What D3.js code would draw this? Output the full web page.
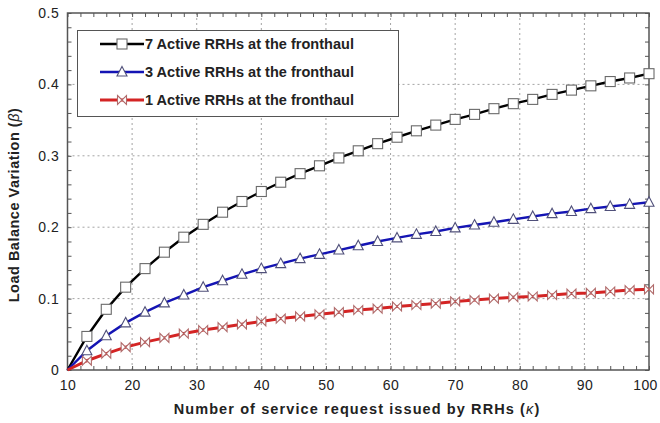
<!DOCTYPE html>
<html>
<head>
<meta charset="utf-8">
<script src="https://cdn.jsdelivr.net/npm/d3@7"></script>
<style>
  html, body { margin: 0; padding: 0; background: #fff; }
  svg { display: block; font-family: "Liberation Sans", Arial, sans-serif; }
</style>
</head>
<body>
<svg id="chart" width="660" height="423"></svg>
<script>
// Number of service requests (kappa), sampled every 3
const kappa = [10, 13, 16, 19, 22, 25, 28, 31, 34, 37, 40, 43, 46, 49, 52, 55,
               58, 61, 64, 67, 70, 73, 76, 79, 82, 85, 88, 91, 94, 97, 100];

// Load balance variation (beta) per number of active RRHs
const rrh7 = [0, 0.047, 0.085, 0.116, 0.142, 0.165, 0.186, 0.204, 0.221, 0.236, 0.250,
              0.263, 0.275, 0.286, 0.297, 0.307, 0.317, 0.326, 0.335, 0.343, 0.351,
              0.358, 0.366, 0.373, 0.379, 0.386, 0.392, 0.398, 0.404, 0.409, 0.415];
const rrh3 = [0, 0.027, 0.048, 0.066, 0.081, 0.094, 0.105, 0.116, 0.125, 0.134, 0.142,
              0.149, 0.156, 0.162, 0.168, 0.174, 0.180, 0.185, 0.190, 0.194, 0.199,
              0.203, 0.207, 0.211, 0.215, 0.219, 0.222, 0.226, 0.229, 0.232, 0.235];
const rrh1 = [0, 0.013, 0.023, 0.032, 0.039, 0.045, 0.051, 0.056, 0.060, 0.064, 0.068,
              0.072, 0.075, 0.078, 0.081, 0.084, 0.086, 0.089, 0.091, 0.093, 0.096,
              0.098, 0.100, 0.102, 0.103, 0.105, 0.107, 0.108, 0.110, 0.112, 0.113];

const seriesNames = ["7 Active RRHs at the fronthaul",
                     "3 Active RRHs at the fronthaul",
                     "1 Active RRHs at the fronthaul"];
const xTicks = [10, 20, 30, 40, 50, 60, 70, 80, 90, 100];
const yTicks = [0, 0.1, 0.2, 0.3, 0.4, 0.5];
const yTickLabels = ["0", "0.1", "0.2", "0.3", "0.4", "0.5"];
const xTitle = ["Number of service request issued by RRHs (", "\u03BA", ")"];
const yTitle = ["Load Balance Variation (", "\u03B2", ")"];

const series = [
  { name: seriesNames[0], values: rrh7, color: "#000000", marker: "square",   mStroke: "#6a6a6a", width: 2.4 },
  { name: seriesNames[1], values: rrh3, color: "#1414b4", marker: "triangle", mStroke: "#50507a", width: 2.4 },
  { name: seriesNames[2], values: rrh1, color: "#d42424", marker: "bowtie",   mStroke: "#b06a6a", width: 3 }
];

const svg = d3.select("#chart");
const L = 67.5, R = 649, T = 13, B = 370;

const x = d3.scaleLinear().domain([10, 100]).range([L, R]);
const y = d3.scaleLinear().domain([0, 0.5]).range([B, T]);

// dotted grid on major ticks
const grid = svg.append("g").attr("stroke", "#9a9a9a").attr("stroke-width", 0.9)
  .attr("stroke-dasharray", "2,3");
grid.selectAll("line.vx").data(xTicks.slice(1, -1)).join("line")
  .attr("x1", d => x(d)).attr("x2", d => x(d)).attr("y1", T).attr("y2", B);
grid.selectAll("line.hy").data(yTicks.slice(1, -1)).join("line")
  .attr("x1", L).attr("x2", R).attr("y1", d => y(d)).attr("y2", d => y(d));

// axes with inward ticks on all four sides
const xMinor = d3.range(10, 100.1, 2);
const yMinor = d3.range(0, 0.5001, 0.02);
function tickAxis(axisGen, g) {
  g.call(axisGen);
  g.select(".domain").remove();
  g.selectAll("line").attr("stroke", "#555").attr("stroke-width", 1);
}
const axB = svg.append("g").attr("transform", `translate(0,${B})`);
tickAxis(d3.axisBottom(x).tickValues(xMinor).tickSize(-4).tickFormat(""), axB);
const axT = svg.append("g").attr("transform", `translate(0,${T})`);
tickAxis(d3.axisTop(x).tickValues(xMinor).tickSize(-4).tickFormat(""), axT);
const axLf = svg.append("g").attr("transform", `translate(${L},0)`);
tickAxis(d3.axisLeft(y).tickValues(yMinor).tickSize(-4).tickFormat(""), axLf);
const axRt = svg.append("g").attr("transform", `translate(${R},0)`);
tickAxis(d3.axisRight(y).tickValues(yMinor).tickSize(-4).tickFormat(""), axRt);

// tick labels
const xLab = svg.append("g").attr("transform", `translate(0,${B})`)
  .call(d3.axisBottom(x).tickValues(xTicks).tickSize(0).tickPadding(10).tickFormat(d3.format("d")));
xLab.select(".domain").remove();
xLab.selectAll("text").attr("font-size", 14).attr("fill", "#222")
  .attr("font-family", "Liberation Sans, Arial, sans-serif").attr("letter-spacing", 0.4)
  .attr("dx", d => d === 100 ? -4 : 0);
const yLab = svg.append("g").attr("transform", `translate(${L},0)`)
  .call(d3.axisLeft(y).tickValues(yTicks).tickSize(0).tickPadding(8).tickFormat((d, i) => yTickLabels[i]));
yLab.select(".domain").remove();
yLab.selectAll("text").attr("font-size", 14).attr("fill", "#222")
  .attr("font-family", "Liberation Sans, Arial, sans-serif").attr("letter-spacing", 0.6);

// frame
svg.append("rect").attr("x", L).attr("y", T).attr("width", R - L).attr("height", B - T)
  .attr("fill", "none").attr("stroke", "#555").attr("stroke-width", 1.5);

// marker shapes
function drawMarker(g, type, stroke) {
  if (type === "square") {
    g.append("rect").attr("x", -5).attr("y", -5).attr("width", 10).attr("height", 10)
      .attr("fill", "#fff").attr("stroke", stroke).attr("stroke-width", 1.1);
  } else if (type === "triangle") {
    g.append("path").attr("d", "M0,-5.5L5,4L-5,4Z")
      .attr("fill", "#fff").attr("stroke", stroke).attr("stroke-width", 1.1);
  } else {
    g.append("path").attr("d", "M-4.5,-4.5L4.5,4.5L4.5,-4.5L-4.5,4.5Z")
      .attr("fill", "#fff").attr("stroke", stroke).attr("stroke-width", 1.1);
  }
}

const line = d3.line().x((d, i) => x(kappa[i])).y(d => y(d));

series.forEach(s => {
  svg.append("path").datum(s.values)
    .attr("d", line).attr("fill", "none")
    .attr("stroke", s.color).attr("stroke-width", s.width);
});
series.forEach(s => {
  svg.append("g").selectAll("g").data(s.values.slice(1)).join("g")
    .attr("transform", (d, i) => `translate(${x(kappa[i + 1])},${y(d)})`)
    .each(function () { drawMarker(d3.select(this), s.marker, s.mStroke); });
});

// legend
const lg = svg.append("g");
lg.append("rect").attr("x", 77.5).attr("y", 30.5).attr("width", 321).attr("height", 86)
  .attr("fill", "#fff").attr("stroke", "#555").attr("stroke-width", 1);
series.forEach((s, i) => {
  const yy = 44 + i * 28;
  lg.append("line").attr("x1", 100).attr("x2", 144).attr("y1", yy).attr("y2", yy)
    .attr("stroke", s.color).attr("stroke-width", s.width);
  drawMarker(lg.append("g").attr("transform", `translate(122,${yy})`), s.marker, s.mStroke);
  lg.append("text").attr("x", 145).attr("y", yy + 5)
    .attr("font-size", 14.5).attr("font-weight", "bold").attr("fill", "#222")
    .attr("textLength", 209).attr("lengthAdjust", "spacing")
    .text(s.name);
});

// axis titles, with the Greek symbol in italics
function titleText(sel, parts) {
  sel.append("tspan").text(parts[0]);
  sel.append("tspan").attr("font-style", "italic").attr("font-weight", "normal").text(parts[1]);
  sel.append("tspan").text(parts[2]);
}
const xt = svg.append("text").attr("x", 357).attr("y", 414).attr("text-anchor", "middle")
  .attr("font-size", 14.5).attr("font-weight", "bold").attr("fill", "#222")
  .attr("letter-spacing", 1.1);
titleText(xt, xTitle);
const yt = svg.append("text").attr("transform", "translate(19,205) rotate(-90)")
  .attr("text-anchor", "middle")
  .attr("font-size", 14.5).attr("font-weight", "bold").attr("fill", "#222")
  .attr("letter-spacing", 0.5);
titleText(yt, yTitle);
</script>
</body>
</html>
